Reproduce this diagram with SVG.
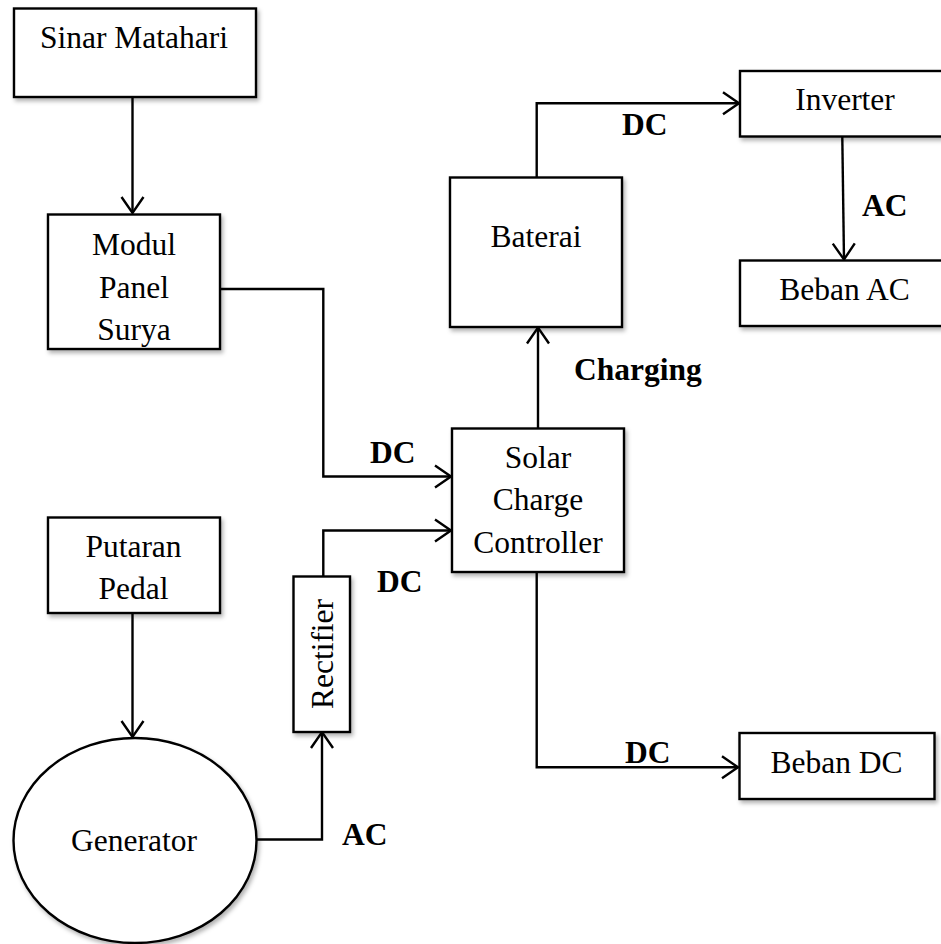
<svg xmlns="http://www.w3.org/2000/svg" width="941" height="944" viewBox="0 0 941 944">
<style>
  .box { fill: #ffffff; stroke: #000000; stroke-width: 2.4; filter: url(#sh); }
  .t { font-family: "Liberation Serif", "Times New Roman", serif; font-size: 31.5px; fill: #000000; text-anchor: middle; }
  .lbl { font-family: "Liberation Serif", "Times New Roman", serif; font-size: 31.5px; font-weight: bold; fill: #000000; }
  .c { fill: none; stroke: #000000; stroke-width: 2.4; marker-end: url(#arr); }
</style>
<defs>
  <filter id="sh" x="-10%" y="-10%" width="130%" height="130%">
    <feDropShadow dx="2" dy="3" stdDeviation="2" flood-color="#000000" flood-opacity="0.3"/>
  </filter>
  <marker id="arr" markerUnits="userSpaceOnUse" markerWidth="22" markerHeight="28" viewBox="-18 -14 21 28" refX="0" refY="0" orient="auto">
    <path d="M-16,-11 L0,0 L-16,11" fill="none" stroke="#000000" stroke-width="2.4"/>
  </marker>
</defs>
<rect width="941" height="944" fill="#ffffff"/>

<g id="connectors">
  <path class="c" d="M132.5,97 V213"/>
  <path class="c" d="M220,289 H323.3 V476.5 H451"/>
  <path class="c" d="M323.3,576.5 V530.5 H451"/>
  <path class="c" d="M132.5,613 V737"/>
  <path class="c" d="M256.5,839.5 H322 V732"/>
  <path class="c" d="M538,428 V327.5"/>
  <path class="c" d="M536.7,177 V103.3 H739"/>
  <path class="c" d="M842.3,137 L844,259.5"/>
  <path class="c" d="M536.7,572 V767.3 H738"/>
  <text class="lbl" x="370" y="463">DC</text>
  <text class="lbl" x="377" y="592">DC</text>
  <text class="lbl" x="342" y="845">AC</text>
  <text class="lbl" x="574" y="380">Charging</text>
  <text class="lbl" x="622" y="135">DC</text>
  <text class="lbl" x="862" y="216">AC</text>
  <text class="lbl" x="625" y="763">DC</text>
</g>

<g id="sinar-matahari">
  <rect class="box" x="14" y="8.5" width="242" height="88.5"/>
  <text class="t" x="134" y="48">Sinar Matahari</text>
</g>

<g id="modul-panel-surya">
  <rect class="box" x="48" y="214.5" width="172" height="134.5"/>
  <text class="t" x="134" y="255">Modul</text>
  <text class="t" x="134" y="298">Panel</text>
  <text class="t" x="134" y="340">Surya</text>
</g>

<g id="putaran-pedal">
  <rect class="box" x="48" y="517.5" width="172" height="95.5"/>
  <text class="t" x="133.5" y="557">Putaran</text>
  <text class="t" x="133.5" y="599">Pedal</text>
</g>

<g id="generator">
  <ellipse class="box" cx="135" cy="840.5" rx="121.5" ry="102.5"/>
  <text class="t" x="134" y="851">Generator</text>
</g>

<g id="rectifier">
  <rect class="box" x="293.5" y="576.5" width="56.5" height="155.5"/>
  <text class="t" transform="translate(333,654) rotate(-90)" x="0" y="0">Rectifier</text>
</g>

<g id="solar-charge-controller">
  <rect class="box" x="452" y="428.5" width="172" height="143.5"/>
  <text class="t" x="538" y="468">Solar</text>
  <text class="t" x="538" y="510">Charge</text>
  <text class="t" x="538" y="553">Controller</text>
</g>

<g id="baterai">
  <rect class="box" x="450" y="177.5" width="172" height="149.5"/>
  <text class="t" x="536" y="247">Baterai</text>
</g>

<g id="inverter">
  <rect class="box" x="740" y="71" width="203" height="65.5"/>
  <text class="t" x="845" y="110">Inverter</text>
</g>

<g id="beban-ac">
  <rect class="box" x="740" y="260.5" width="203" height="65.5"/>
  <text class="t" x="844.5" y="300">Beban AC</text>
</g>

<g id="beban-dc">
  <rect class="box" x="739.5" y="733" width="195" height="66"/>
  <text class="t" x="836.5" y="773">Beban DC</text>
</g>
</svg>
